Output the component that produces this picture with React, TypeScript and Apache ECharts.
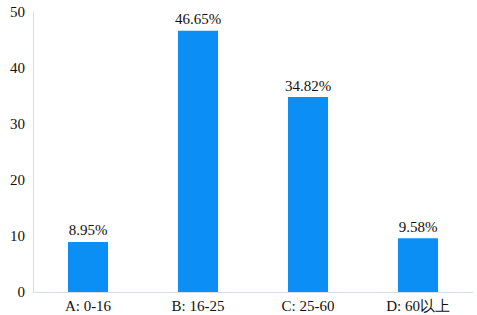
import React, { useEffect, useRef } from "react";
import * as echarts from "echarts";

const categories = ["A: 0-16", "B: 16-25", "C: 25-60", "D: 60以上"];
const values = [8.95, 46.65, 34.82, 9.58];
const yTicks = { min: 0, max: 50, interval: 10 };

export default function App() {
  const ref = useRef<HTMLDivElement>(null);
  useEffect(() => {
    const chart = echarts.init(ref.current!, null, { renderer: "svg" });
    const font = "Times New Roman";
    chart.setOption({
      animation: false,
      textStyle: { fontFamily: font },
      grid: { left: 33, right: 4, top: 12, bottom: 23, containLabel: false },
      xAxis: {
        type: "category",
        data: categories,
        axisLine: { lineStyle: { color: "#d5dcee", width: 1 } },
        axisTick: { show: false },
        axisLabel: { color: "#111", fontFamily: font, fontSize: 15, margin: 6 },
      },
      yAxis: {
        type: "value",
        min: yTicks.min,
        max: yTicks.max,
        interval: yTicks.interval,
        axisLine: { show: true, lineStyle: { color: "#d5dcee", width: 1 } },
        axisTick: { show: false },
        splitLine: { show: false },
        axisLabel: { color: "#111", fontFamily: font, fontSize: 15, margin: 8 },
      },
      series: [
        {
          type: "bar",
          data: values,
          barWidth: 40,
          itemStyle: { color: "#0b8ff5" },
          label: {
            show: true,
            position: "top",
            distance: 4,
            formatter: (p: any) => p.value.toFixed(2) + "%",
            color: "#111",
            fontFamily: font,
            fontSize: 15,
          },
        },
      ],
    });
    return () => chart.dispose();
  }, []);
  return <div ref={ref} style={{ width: 477, height: 315, position: "absolute", left: 0, top: 0 }} />;
}
